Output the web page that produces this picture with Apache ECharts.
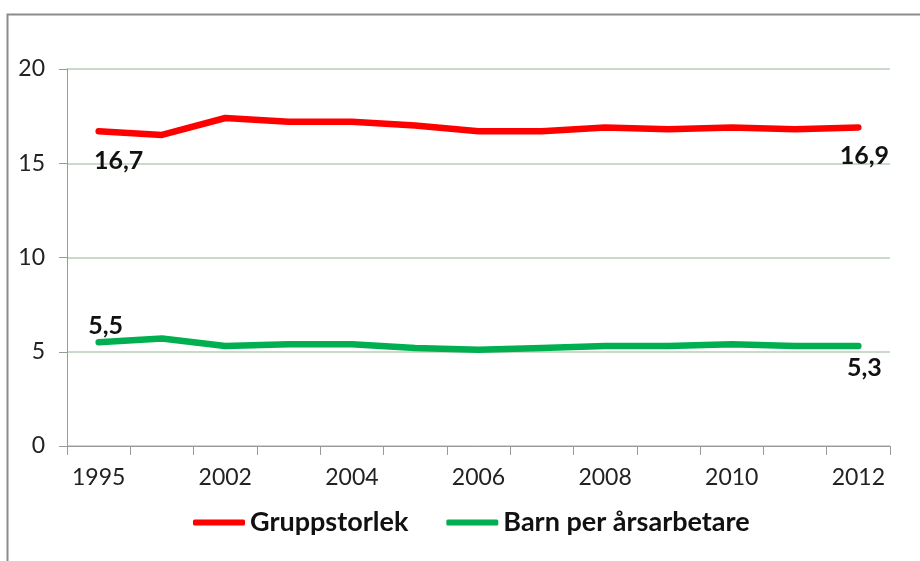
<!DOCTYPE html>
<html>
<head>
<meta charset="utf-8">
<script src="https://cdn.jsdelivr.net/npm/echarts@6/dist/echarts.min.js"></script>
<style>
  html, body { margin: 0; padding: 0; background: #fff; }
  #chart { width: 920px; height: 561px; }
</style>
</head>
<body>
<div id="chart"></div>
<script>
const years = ['1995', '2000', '2002', '2003', '2004', '2005', '2006', '2007', '2008', '2009', '2010', '2011', '2012'];
const gruppstorlek = [16.7, 16.5, 17.4, 17.2, 17.2, 17.0, 16.7, 16.7, 16.9, 16.8, 16.9, 16.8, 16.9];
const barnPerArsarbetare = [5.5, 5.7, 5.3, 5.4, 5.4, 5.2, 5.1, 5.2, 5.3, 5.3, 5.4, 5.3, 5.3];
const yTicks = [0, 5, 10, 15, 20];

const font = 'Lato, "Open Sans", sans-serif';
const endLabel = (position, offset) => ({
  show: true,
  position,
  offset,
  distance: 6,
  fontFamily: font,
  fontSize: 25,
  fontWeight: 'bold',
  color: '#111',
  formatter: p => String(p.value).replace('.', ',')
});

// only first and last points carry a value label
function withEndLabels(values, first, last) {
  return values.map((v, i) => {
    if (i === 0) return { value: v, label: first };
    if (i === values.length - 1) return { value: v, label: last };
    return v;
  });
}

const chart = echarts.init(document.getElementById('chart'));

chart.setOption({
  animation: false,
  graphic: [
    {
      type: 'polyline',
      shape: { points: [[7.5, 561], [7.5, 14.5], [920, 14.5]] },
      style: { stroke: '#8c8c8c', lineWidth: 2, fill: 'none' }
    }
  ],
  grid: { left: 67, right: 30, top: 69, bottom: 115 },
  legend: {
    bottom: 20,
    left: 188,
    itemWidth: 52,
    itemHeight: 6,
    itemGap: 38,
    icon: 'roundRect',
    textStyle: { fontFamily: font, fontSize: 27, fontWeight: 'bold', color: '#111', padding: [0, 0, 0, 0] },
    data: ['Gruppstorlek', 'Barn per årsarbetare']
  },
  xAxis: {
    type: 'category',
    data: years,
    boundaryGap: true,
    axisLine: { lineStyle: { color: '#9a9a9a', width: 1 } },
    axisTick: { show: true, length: 9, interval: 0, lineStyle: { color: '#9a9a9a' } },
    axisLabel: { interval: 1, margin: 20, fontFamily: font, fontSize: 23, color: '#222' }
  },
  yAxis: {
    type: 'value',
    min: yTicks[0],
    max: yTicks[yTicks.length - 1],
    interval: 5,
    axisLine: { show: true, lineStyle: { color: '#9a9a9a', width: 1 } },
    axisTick: { show: true, length: 8, lineStyle: { color: '#9a9a9a' } },
    axisLabel: { margin: 22, fontFamily: font, fontSize: 23, color: '#222' },
    splitLine: { lineStyle: { color: '#b9cdb9', width: 1.5 } }
  },
  series: [
    {
      name: 'Gruppstorlek',
      type: 'line',
      data: withEndLabels(gruppstorlek, endLabel('bottom', [20, 11]), endLabel('bottom', [6, 10])),
      symbol: 'circle',
      symbolSize: 0.01,
      itemStyle: { color: '#ff0000' },
      lineStyle: { color: '#ff0000', width: 6.5, cap: 'round', join: 'round' }
    },
    {
      name: 'Barn per årsarbetare',
      type: 'line',
      data: withEndLabels(barnPerArsarbetare, endLabel('top', [7, 2]), endLabel('bottom', [6, 3])),
      symbol: 'circle',
      symbolSize: 0.01,
      itemStyle: { color: '#00b050' },
      lineStyle: { color: '#00b050', width: 6.5, cap: 'round', join: 'round' }
    }
  ]
});
</script>
</body>
</html>
